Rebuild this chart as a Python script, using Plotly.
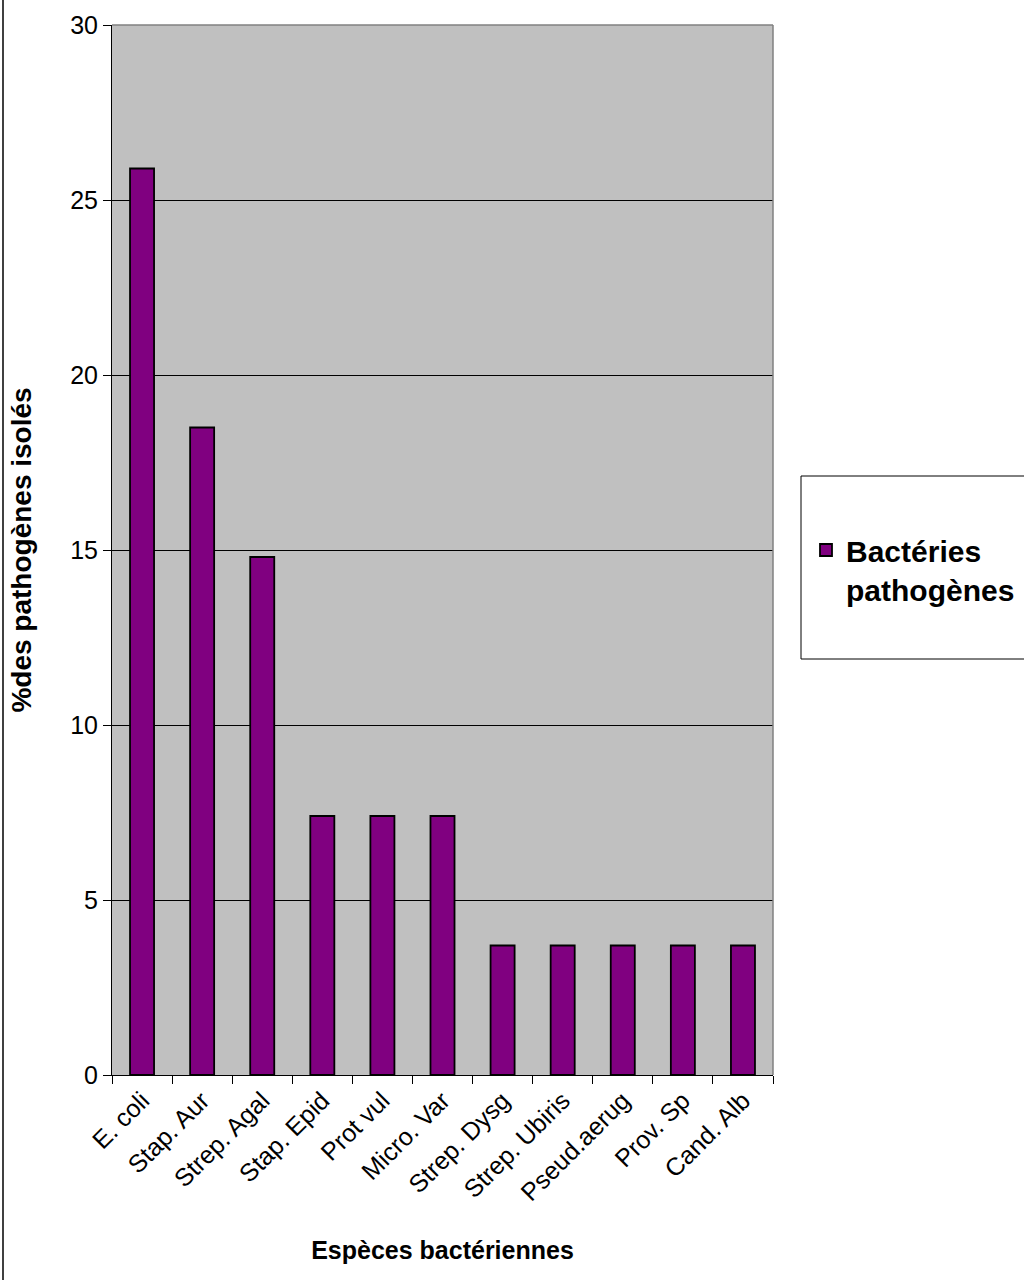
import plotly.graph_objects as go

categories = ["E. coli", "Stap. Aur", "Strep. Agal", "Stap. Epid", "Prot vul", "Micro. Var",
              "Strep. Dysg", "Strep. Ubiris", "Pseud.aerug", "Prov. Sp", "Cand. Alb"]
values = [25.9, 18.5, 14.8, 7.4, 7.4, 7.4, 3.7, 3.7, 3.7, 3.7, 3.7]
series_name = "Bactéries<br>pathogènes"
y_ticks = [0, 5, 10, 15, 20, 25, 30]

FONT = "Arial, 'Liberation Sans', sans-serif"

fig = go.Figure()
fig.add_trace(go.Bar(
    x=categories, y=values, name=series_name,
    marker=dict(color="#800080", line=dict(color="#000000", width=1.8)),
    showlegend=True,
))

L, R, T, B = 112, 251, 25, 205
W, H = 1024, 1280
pw, ph = W - L - R, H - T - B

def px(x):
    return (x - L) / pw

def py(y):
    return (H - B - y) / ph

fig.update_layout(
    width=W, height=H,
    margin=dict(l=L, r=R, t=T, b=B, autoexpand=False),
    paper_bgcolor="#FFFFFF",
    plot_bgcolor="#C0C0C0",
    bargap=0.6,
    font=dict(family=FONT, color="#000000"),
    showlegend=True,
    legend=dict(
        x=px(806), y=py(524), xanchor="left", yanchor="top",
        bgcolor="rgba(0,0,0,0)", borderwidth=0,
        font=dict(size=30, family=FONT, color="#000000", weight="bold"),
        valign="top", itemwidth=30,
    ),
    xaxis=dict(
        type="category",
        showline=True, linecolor="#000000", linewidth=1,
        ticks="outside", ticklen=8, tickcolor="#000000", tickson="boundaries",
        tickangle=-45, tickfont=dict(size=25, family=FONT),
        showgrid=False,
        title=dict(text="<b>Espèces bactériennes</b>", font=dict(size=25, family=FONT), standoff=36),
    ),
    yaxis=dict(
        range=[0, 30], tickvals=y_ticks,
        showline=True, linecolor="#000000", linewidth=1,
        ticks="outside", ticklen=8, tickcolor="#000000",
        tickfont=dict(size=25, family=FONT),
        showgrid=True, gridcolor="#000000", gridwidth=1,
        zeroline=False,
        title=dict(text="<b>%des pathogènes isolés</b>", font=dict(size=28, family=FONT), standoff=30),
    ),
    shapes=[
        # gray top/right plot-area border
        dict(type="line", xref="paper", yref="paper", x0=0, x1=1, y0=1, y1=1,
             line=dict(color="#808080", width=1.5)),
        dict(type="line", xref="paper", yref="paper", x0=1, x1=1, y0=0, y1=1,
             line=dict(color="#808080", width=1.5)),
        # legend box
        dict(type="rect", xref="paper", yref="paper",
             x0=px(801), x1=px(1030), y0=py(659), y1=py(476),
             line=dict(color="#000000", width=1), fillcolor="rgba(0,0,0,0)", layer="below"),
        # figure left border
        dict(type="line", xref="paper", yref="paper",
             x0=px(3), x1=px(3), y0=py(1280), y1=py(0),
             line=dict(color="#000000", width=1.5)),
    ],
)

fig.write_html("out.html")
